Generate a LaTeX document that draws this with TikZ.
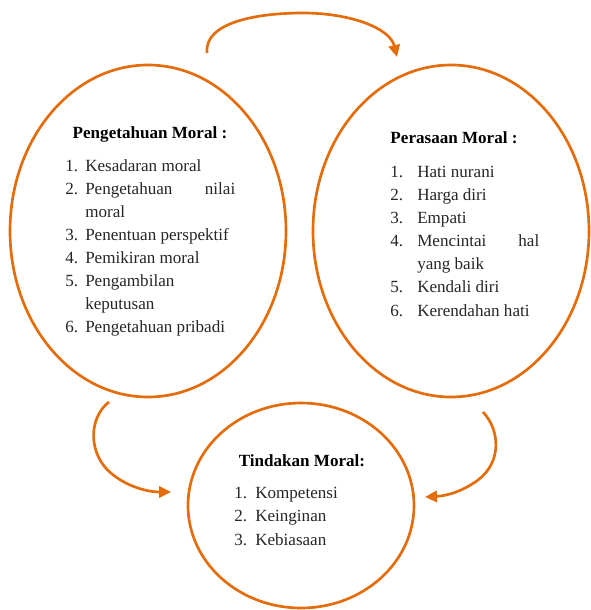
\documentclass[tikz,border=0pt]{standalone}
\usepackage{fontspec}
\setmainfont{Liberation Serif}
\usetikzlibrary{shapes.geometric,arrows.meta}
\definecolor{ora}{HTML}{E46C0A}
\newcommand{\nb}[2]{\makebox[#1][l]{#2}}
\tikzset{
  ell/.style={draw=ora, line width=2pt, ellipse, inner sep=0pt},
  big/.style={ell, minimum width=207pt, minimum height=249pt},
  small/.style={ell, minimum width=169.5pt, minimum height=153.75pt},
  txt/.style={font=\fontsize{12.8}{17.3}\selectfont, inner sep=0pt, align=left, text=black!85, anchor=base west},
  head/.style={font=\fontsize{12.8}{17.3}\selectfont\bfseries, inner sep=0pt, anchor=base, text=black},
  arr/.style={draw=ora, line width=2pt, -{Triangle[length=9pt,width=8.5pt]}}
}
\begin{document}
\begin{tikzpicture}[x=0.75pt,y=-0.75pt]
\useasboundingbox (0,0) rectangle (590,610);
% ellipses
\node[big] (pm) at (148,231) {};
\node[big] (ps) at (451,231) {};
\node[small] (tm) at (301,505.5) {};
% headings
\node[head] (hpm) at (150,138) {Pengetahuan Moral :};
\node[head] (hps) at (454,143) {Perasaan Moral :};
\node[head] (htm) at (302,466) {Tindakan Moral:};
% lists (anchored at the baseline of their last line)
\node[txt] (lpm) at (65,332.5) {%
\nb{15pt}{1.}Kesadaran moral\\
\nb{15pt}{2.}\makebox[112.5pt][l]{Pengetahuan\hfill nilai}\\
\nb{15pt}{}moral\\
\nb{15pt}{3.}Penentuan perspektif\\
\nb{15pt}{4.}Pemikiran moral\\
\nb{15pt}{5.}Pengambilan\\
\nb{15pt}{}keputusan\\
\nb{15pt}{6.}Pengetahuan pribadi};
\node[txt] (lps) at (390,316) {%
\nb{20.25pt}{1.}Hati nurani\\
\nb{20.25pt}{2.}Harga diri\\
\nb{20.25pt}{3.}Empati\\
\nb{20.25pt}{4.}\makebox[91.5pt][l]{Mencintai\hfill hal}\\
\nb{20.25pt}{}yang baik\\
\nb{20.25pt}{5.}Kendali diri\\
\nb{20.25pt}{6.}Kerendahan hati};
\node[txt] (ltm) at (234,545) {%
\nb{15.75pt}{1.}Kompetensi\\
\nb{15.75pt}{2.}Keinginan\\
\nb{15.75pt}{3.}Kebiasaan};
% arrow end points
\coordinate (a1s) at (207,53);
\coordinate (a1e) at (397,57);
\coordinate (a2s) at (109,402);
\coordinate (a2e) at (171,492);
\coordinate (a3s) at (483,412);
\coordinate (a3e) at (425,497);
% arrows
\draw[arr] (a1s) .. controls (204,22) and (258,13) .. (303,13)
                 .. controls (350,13) and (390,28) .. (a1e);
\draw[arr] (a2s) .. controls (88,418) and (88,455) .. (112,474)
                 .. controls (128,487) and (148,492) .. (a2e);
\draw[arr] (a3s) .. controls (500,430) and (502,462) .. (478,480)
                 .. controls (462,492) and (445,496) .. (a3e);
\end{tikzpicture}
\end{document}
